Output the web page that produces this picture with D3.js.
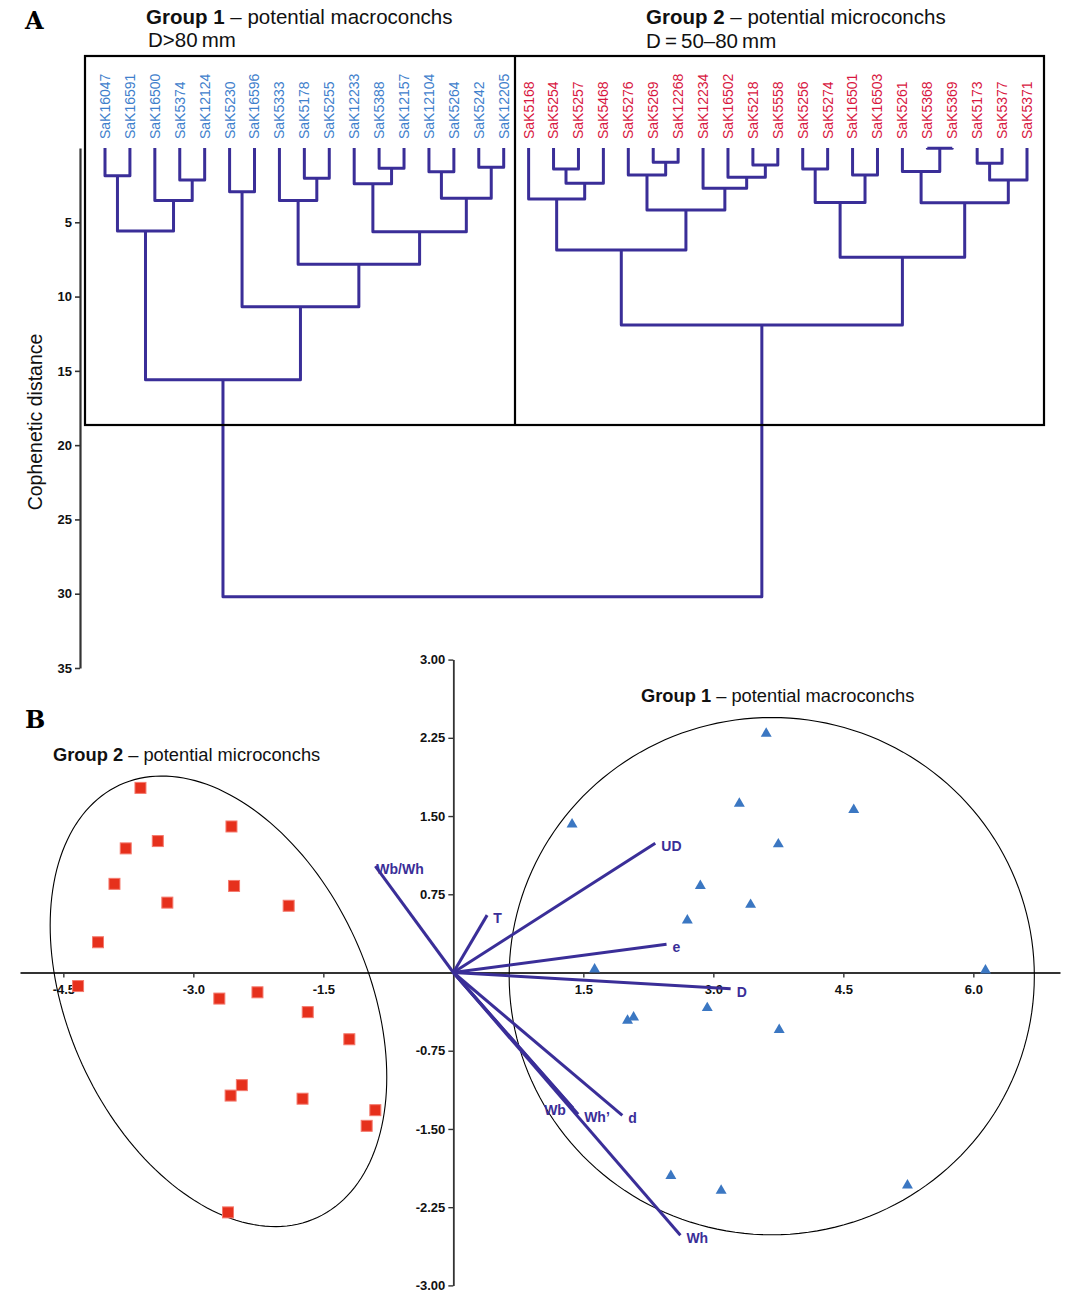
<!DOCTYPE html>
<html><head><meta charset="utf-8">
<script src="https://cdn.jsdelivr.net/npm/d3@7"></script>
<style>
body{margin:0;background:#fff;}
svg{display:block;font-family:"Liberation Sans",Arial,sans-serif;}
</style></head>
<body><svg id="c" width="1081" height="1305"></svg>
<script>
// ---------- Panel A data ----------
const group1Leaves = ["SaK16047","SaK16591","SaK16500","SaK5374","SaK12124","SaK5230","SaK16596","SaK5333","SaK5178","SaK5255","SaK12233","SaK5388","SaK12157","SaK12104","SaK5264","SaK5242","SaK12205"];
const group2Leaves = ["SaK5168","SaK5254","SaK5257","SaK5468","SaK5276","SaK5269","SaK12268","SaK12234","SaK16502","SaK5218","SaK5558","SaK5256","SaK5274","SaK16501","SaK16503","SaK5261","SaK5368","SaK5369","SaK5173","SaK5377","SaK5371"];
// [cluster id, child A, child B, cophenetic distance]
const merges = [
 ["c1","SaK16047","SaK16591",1.86],
 ["c2","SaK5374","SaK12124",2.15],
 ["c3","SaK16500","c2",3.54],
 ["c4","c1","c3",5.59],
 ["c5","SaK5230","SaK16596",2.94],
 ["c6","SaK5178","SaK5255",2.04],
 ["c7","SaK5333","c6",3.54],
 ["c8","SaK5388","SaK12157",1.37],
 ["c9","SaK12233","c8",2.4],
 ["c10","SaK12104","SaK5264",1.6],
 ["c11","SaK5242","SaK12205",1.3],
 ["c12","c10","c11",3.38],
 ["c13","c9","c12",5.63],
 ["c14","c7","c13",7.83],
 ["c15","c5","c14",10.68],
 ["c16","c4","c15",15.6],
 ["c17","SaK5254","SaK5257",1.41],
 ["c18","c17","SaK5468",2.38],
 ["c19","SaK5168","c18",3.43],
 ["c20","SaK5269","SaK12268",0.96],
 ["c21","SaK5276","c20",1.82],
 ["c22","SaK5218","SaK5558",1.14],
 ["c23","SaK16502","c22",1.97],
 ["c24","SaK12234","c23",2.71],
 ["c25","c21","c24",4.17],
 ["c26","c19","c25",6.86],
 ["c27","SaK5256","SaK5274",1.41],
 ["c28","SaK16501","SaK16503",1.82],
 ["c29","c27","c28",3.66],
 ["c30","SaK5368","SaK5369",0.02],
 ["c31","SaK5261","c30",1.59],
 ["c32","SaK5173","SaK5377",1.03],
 ["c33","c32","SaK5371",2.15],
 ["c34","c31","c33",3.68],
 ["c35","c29","c34",7.36],
 ["c36","c26","c35",11.91],
 ["c37","c16","c36",30.2]
];
const distTicks = [5,10,15,20,25,30,35];

// ---------- Panel B data ----------
const g2X = [-3.61,-2.56,-3.41,-3.78,-3.91,-2.53,-3.30,-1.90,-4.10,-4.33,-2.70,-2.26,-1.68,-1.20,-2.44,-2.57,-1.74,-0.90,-1.00,-2.60];
const g2Y = [1.77,1.40,1.26,1.19,0.85,0.83,0.67,0.64,0.29,-0.13,-0.25,-0.19,-0.38,-0.64,-1.08,-1.18,-1.21,-1.32,-1.47,-2.30];
const g1X = [3.61,3.30,4.62,1.37,3.75,2.85,3.43,2.70,1.63,6.14,2.93,2.01,2.08,3.76,2.51,3.09,5.24];
const g1Y = [2.29,1.62,1.56,1.42,1.23,0.83,0.65,0.50,0.03,0.02,-0.34,-0.46,-0.43,-0.55,-1.95,-2.09,-2.04];
const vecNames = ["UD","T","e","D","Wb/Wh","d","Wh’","Wb","Wh"];
const vecX = [2.33,0.39,2.46,3.20,-0.90,1.95,1.44,1.38,2.62];
const vecY = [1.24,0.55,0.27,-0.155,1.02,-1.37,-1.36,-1.30,-2.52];
// 95% ellipses: centre, x-variance, y-variance, covariance (data units)
const ellipseNames = ["Group 1","Group 2"];
const ellCx = [3.674,-2.71];
const ellCy = [-0.035,-0.276];
const ellVx = [9.18,3.771];
const ellVy = [6.15,4.666];
const ellCov = [0,-1.411];
const pcaXTicks = [-4.5,-3.0,-1.5,1.5,3.0,4.5,6.0];
const pcaYTicks = [3.00,2.25,1.50,0.75,-0.75,-1.50,-2.25,-3.00];

const svg = d3.select("#c");
const purple = "#3a2e98";
const font = "'Liberation Sans',Arial,sans-serif";

// ================= PANEL A =================
const allLeaves = group1Leaves.concat(group2Leaves);
const xL = d3.scalePoint().domain(allLeaves).range([105,1027]);
const yD = d3.scaleLinear().domain([0,35]).range([148,668]);

svg.append("text").attr("x",25).attr("y",29).text("A")
  .attr("font-family","'DejaVu Serif',serif").attr("font-weight","bold").attr("font-size",24);

function title(x,y,bold,rest,size){
  const t = svg.append("text").attr("x",x).attr("y",y).attr("font-size",size).attr("fill","#111");
  t.append("tspan").attr("font-weight","bold").text(bold);
  t.append("tspan").text(rest);
}
title(146,24,"Group 1"," – potential macroconchs",20.5);
svg.append("text").attr("x",148).attr("y",47).attr("font-size",20.5).attr("fill","#111").text("D>80\u2009mm");
title(646,24,"Group 2"," – potential microconchs",20.5);
svg.append("text").attr("x",646).attr("y",48).attr("font-size",20.5).attr("fill","#111").text("D\u2009=\u200950–80\u2009mm");

// axis
const axA = svg.append("g").attr("transform","translate(80,0)")
  .call(d3.axisLeft(yD).tickValues(distTicks).tickSize(5).tickSizeOuter(0).tickPadding(3));
axA.select(".domain").attr("stroke","#333").attr("stroke-width",2.2);
axA.selectAll(".tick line").attr("stroke","#333").attr("stroke-width",1.6);
axA.selectAll(".tick text").attr("font-family",font).attr("font-weight","bold").attr("font-size",13).attr("fill","#111");
svg.append("text").attr("transform","translate(42,422) rotate(-90)").attr("text-anchor","middle")
  .attr("font-size",19.5).attr("fill","#111").text("Cophenetic distance");

// dendrogram
const pos = {};
allLeaves.forEach(l=>pos[l]={x:xL(l),h:0});
const dg = svg.append("g");
merges.forEach(([id,a,b,h])=>{
  const A=pos[a],B=pos[b];
  pos[id]={x:(A.x+B.x)/2,h:h};
  dg.append("path")
    .attr("d",`M${A.x},${yD(A.h)}V${yD(h)}H${B.x}V${yD(B.h)}`)
    .attr("fill","none").attr("stroke",purple).attr("stroke-width",3)
    .attr("stroke-linejoin","round");
});

// leaf labels
svg.append("g").selectAll("text").data(allLeaves).join("text")
  .attr("transform",d=>`translate(${xL(d)},139) rotate(-90)`)
  .attr("dy","0.35em").attr("font-size",14)
  .attr("fill",d=>group1Leaves.includes(d)?"#3f80cc":"#d8173f")
  .text(d=>d);

// frames
svg.append("rect").attr("x",85).attr("y",56).attr("width",959).attr("height",369)
  .attr("fill","none").attr("stroke","#000").attr("stroke-width",2.2);
svg.append("line").attr("x1",515).attr("x2",515).attr("y1",56).attr("y2",425)
  .attr("stroke","#000").attr("stroke-width",2.2);

// ================= PANEL B =================
const xP = d3.scaleLinear().domain([-5,7]).range([20,1060]);
const yP = d3.scaleLinear().domain([-3,3]).range([1285.4,659.6]);

svg.append("text").attr("x",25).attr("y",728).text("B")
  .attr("font-family","'DejaVu Serif',serif").attr("font-weight","bold").attr("font-size",24);
title(641,702,"Group 1"," – potential macroconchs",18.3);
title(53,761,"Group 2"," – potential microconchs",18.3);

// axes
const axX = svg.append("g").attr("transform",`translate(0,${yP(0)})`)
  .call(d3.axisBottom(xP).tickValues(pcaXTicks).tickSize(5).tickSizeOuter(0).tickPadding(7).tickFormat(d=>d.toFixed(1)));
const axY = svg.append("g").attr("transform",`translate(${xP(0)},0)`)
  .call(d3.axisLeft(yP).tickValues(pcaYTicks).tickSize(5).tickSizeOuter(0).tickPadding(3).tickFormat(d=>d.toFixed(2)));
[axX,axY].forEach(a=>{
  a.select(".domain").attr("stroke","#333").attr("stroke-width",1.8);
  a.selectAll(".tick line").attr("stroke","#333").attr("stroke-width",1.4);
  a.selectAll(".tick text").attr("font-family",font).attr("font-weight","bold").attr("font-size",13).attr("fill","#111");
});

// ellipses
const lineGen = d3.line().x(d=>xP(d[0])).y(d=>yP(d[1]));
ellipseNames.forEach((n,i)=>{
  const a=Math.sqrt(ellVx[i]);
  const b=ellCov[i]/a;
  const c=Math.sqrt(ellVy[i]-b*b);
  const pts=d3.range(0,361,2).map(t=>{
    const r=t*Math.PI/180, u=Math.cos(r), v=Math.sin(r);
    return [ellCx[i]+a*u, ellCy[i]+b*u+c*v];
  });
  svg.append("path").attr("d",lineGen(pts)).attr("fill","none").attr("stroke","#000").attr("stroke-width",1.1);
});

// vectors
const vg = svg.append("g");
vecNames.forEach((n,i)=>{
  vg.append("line").attr("x1",xP(0)).attr("y1",yP(0)).attr("x2",xP(vecX[i])).attr("y2",yP(vecY[i]))
    .attr("stroke",purple).attr("stroke-width",3);
});
const labelShift = {"Wb/Wh":[1,3],"Wb":[-7,2]};
const labelAnchor = {"Wb":"end"};
vecNames.forEach((n,i)=>{
  const s = labelShift[n]||[6,3];
  vg.append("text").attr("x",xP(vecX[i])+s[0]).attr("y",yP(vecY[i])+s[1]).attr("dy","0.35em")
    .attr("text-anchor",labelAnchor[n]||"start")
    .attr("font-size",14).attr("font-weight","bold").attr("fill",purple).text(n);
});

// points
svg.append("g").selectAll("rect").data(g2X).join("rect")
  .attr("x",(d,i)=>xP(d)-5.5).attr("y",(d,i)=>yP(g2Y[i])-5.5).attr("width",11).attr("height",11)
  .attr("fill","#e6301c").attr("stroke","#f47a6e").attr("stroke-width",1);
svg.append("g").selectAll("path").data(g1X).join("path")
  .attr("transform",(d,i)=>`translate(${xP(d)},${yP(g1Y[i])})`)
  .attr("d",d3.symbol(d3.symbolTriangle,52))
  .attr("fill","#3b77c2");
</script></body></html>
